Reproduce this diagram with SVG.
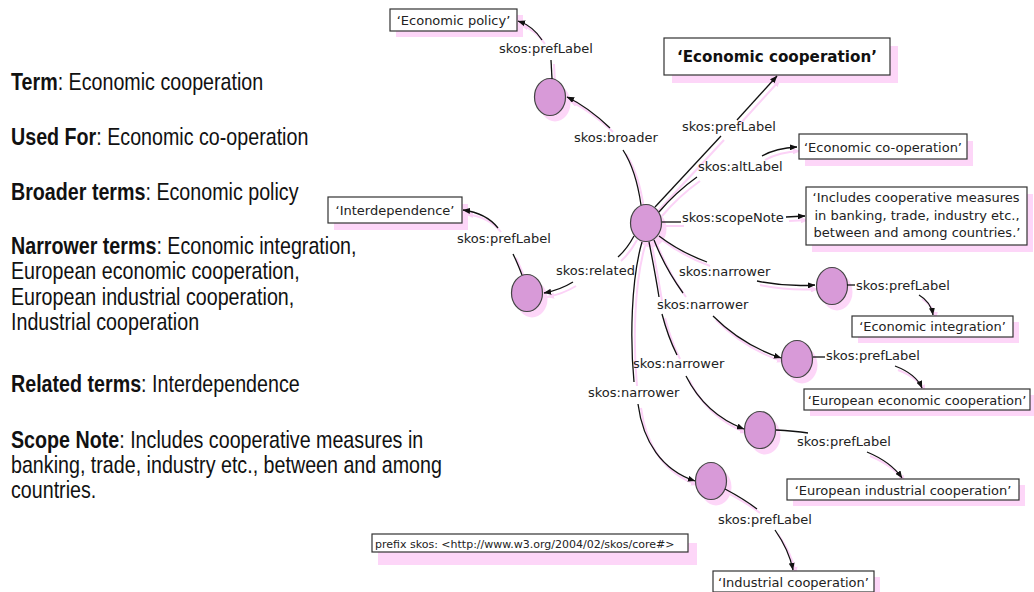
<svg xmlns="http://www.w3.org/2000/svg" width="1034" height="592" viewBox="0 0 1034 592">
<style>
.lt{font-family:"Liberation Sans",Arial,sans-serif;font-size:24px;fill:#111}
.b{font-weight:bold}
.t{font-family:"DejaVu Sans",Verdana,sans-serif;font-size:13px;fill:#222}
.c{text-anchor:middle}
.box{fill:#fff;stroke:#333;stroke-width:1.2}
.sh{fill:#fdd6f8}
.nd{fill:#d89ad8;stroke:#444;stroke-width:1.2}
</style>
<defs>
<marker id="ah" viewBox="0 0 10 8" refX="9.5" refY="4" markerWidth="7.5" markerHeight="6" markerUnits="userSpaceOnUse" orient="auto"><path d="M0,0 L10,4 L0,8 z" fill="#111"/></marker>
<marker id="ahp" viewBox="0 0 10 8" refX="9.5" refY="4" markerWidth="7.5" markerHeight="6" markerUnits="userSpaceOnUse" orient="auto"><path d="M0,0 L10,4 L0,8 z" fill="#fcd2f7"/></marker>
</defs>
<rect width="1034" height="592" fill="#fff"/>

<!-- left description text -->
<g id="description" class="lt" transform="scale(0.82,1)">
<text x="13.4" y="90"><tspan class="b">Term</tspan>: Economic cooperation</text>
<text x="13.4" y="145"><tspan class="b">Used For</tspan>: Economic co-operation</text>
<text x="13.4" y="200"><tspan class="b">Broader terms</tspan>: Economic policy</text>
<text x="13.4" y="254"><tspan class="b">Narrower terms</tspan>: Economic integration,</text>
<text x="13.4" y="279.5">European economic cooperation,</text>
<text x="13.4" y="305">European industrial cooperation,</text>
<text x="13.4" y="330.5">Industrial cooperation</text>
<text x="13.4" y="392"><tspan class="b">Related terms</tspan>: Interdependence</text>
<text x="13.4" y="448"><tspan class="b">Scope Note</tspan>: Includes cooperative measures in</text>
<text x="13.4" y="473">banking, trade, industry etc., between and among</text>
<text x="13.4" y="498">countries.</text>
</g>

<!-- pink edge shadows -->
<g id="edge-shadows" fill="none" stroke="#fcd2f7" stroke-width="2" transform="translate(3,4)">
<path d="M641,205 Q636,170 623,150"/>
<path d="M610,128 Q588,107 567,97" marker-end="url(#ahp)"/>
<path d="M552,79 L551,60"/>
<path d="M542,40 Q533,26 518,21" marker-end="url(#ahp)"/>
<path d="M655,207 L721,136"/>
<path d="M737,120 L777,76" marker-end="url(#ahp)"/>
<path d="M659,212 Q676,192 697,177"/>
<path d="M762,156 Q776,148 797,147" marker-end="url(#ahp)"/>
<path d="M662,222 L681,222"/>
<path d="M786,217 L805,216" marker-end="url(#ahp)"/>
<path d="M634,236 Q627,249 618,257"/>
<path d="M573,282 Q560,290 544,293" marker-end="url(#ahp)"/>
<path d="M522,275 Q517,262 513,254"/>
<path d="M498,228 Q486,213 463,210" marker-end="url(#ahp)"/>
<path d="M659,236 Q680,252 707,262"/>
<path d="M757,281 Q786,287 815,285" marker-end="url(#ahp)"/>
<path d="M654,240 Q665,268 683,293"/>
<path d="M713,316 Q742,345 781,358" marker-end="url(#ahp)"/>
<path d="M649,242 Q655,272 659,297"/>
<path d="M662,314 Q668,337 677,355"/>
<path d="M686,376 Q705,414 744,429" marker-end="url(#ahp)"/>
<path d="M642,242 C631,280 630,340 634,382"/>
<path d="M638,404 C643,442 662,470 695,481" marker-end="url(#ahp)"/>
<path d="M919,295 Q931,302 933,315" marker-end="url(#ahp)"/>
<path d="M895,366 Q916,374 922,388" marker-end="url(#ahp)"/>
<path d="M867,452 Q891,462 902,478" marker-end="url(#ahp)"/>
<path d="M725,489 Q744,499 757,509"/>
<path d="M775,530 Q789,550 793,570" marker-end="url(#ahp)"/>
</g>

<!-- concept nodes -->
<g id="node-center"><ellipse class="sh" cx="651" cy="229" rx="15.5" ry="18.5"/><ellipse class="nd" cx="646" cy="223" rx="15.5" ry="18.5"/></g>
<g id="node-broader"><ellipse class="sh" cx="555" cy="103" rx="15.5" ry="18.5"/><ellipse class="nd" cx="550" cy="97" rx="15.5" ry="18.5"/></g>
<g id="node-related"><ellipse class="sh" cx="532" cy="299" rx="15.5" ry="18.5"/><ellipse class="nd" cx="527" cy="293" rx="15.5" ry="18.5"/></g>
<g id="node-narrower-1"><ellipse class="sh" cx="837" cy="292" rx="15.5" ry="18.5"/><ellipse class="nd" cx="832" cy="286" rx="15.5" ry="18.5"/></g>
<g id="node-narrower-2"><ellipse class="sh" cx="802" cy="365" rx="15.5" ry="18.5"/><ellipse class="nd" cx="797" cy="359" rx="15.5" ry="18.5"/></g>
<g id="node-narrower-3"><ellipse class="sh" cx="765" cy="436" rx="15.5" ry="18.5"/><ellipse class="nd" cx="760" cy="430" rx="15.5" ry="18.5"/></g>
<g id="node-narrower-4"><ellipse class="sh" cx="716" cy="487" rx="15.5" ry="18.5"/><ellipse class="nd" cx="711" cy="481" rx="15.5" ry="18.5"/></g>

<!-- literal nodes -->
<g id="lit-economic-policy"><rect class="sh" x="396" y="15" width="127" height="22"/><rect class="box" x="390" y="9" width="127" height="22"/><text class="t c" x="453.5" y="25">‘Economic policy’</text></g>
<g id="lit-economic-cooperation"><rect class="sh" x="672" y="46" width="226" height="37"/><rect class="box" x="664" y="38" width="226" height="37"/><text x="777" y="62" text-anchor="middle" font-family="DejaVu Sans, Verdana, sans-serif" font-weight="bold" font-size="16" fill="#111" textLength="200" lengthAdjust="spacingAndGlyphs">‘Economic cooperation’</text></g>
<g id="lit-economic-co-operation"><rect class="sh" x="805" y="141" width="168" height="25"/><rect class="box" x="799" y="134" width="168" height="25"/><text class="t c" x="883" y="152">‘Economic co-operation’</text></g>
<g id="lit-scope-note"><rect class="sh" x="812" y="194" width="221" height="58"/><rect class="box" x="806" y="187" width="221" height="58"/><text class="t c" x="916" y="202">‘Includes cooperative measures</text><text class="t c" x="917" y="219.5">in banking, trade, industry etc.,</text><text class="t c" x="917" y="237">between and among countries.’</text></g>
<g id="lit-interdependence"><rect class="sh" x="334" y="204" width="134" height="26"/><rect class="box" x="328" y="197" width="134" height="26"/><text class="t c" x="395" y="215">‘Interdependence’</text></g>
<g id="lit-economic-integration"><rect class="sh" x="858" y="322" width="161" height="21"/><rect class="box" x="852" y="316" width="161" height="21"/><text class="t c" x="932.5" y="331">‘Economic integration’</text></g>
<g id="lit-european-economic"><rect class="sh" x="810" y="395" width="226" height="21"/><rect class="box" x="804" y="389" width="226" height="21"/><text class="t c" x="917" y="405">‘European economic cooperation’</text></g>
<g id="lit-european-industrial"><rect class="sh" x="793" y="485" width="232" height="21"/><rect class="box" x="787" y="479" width="232" height="21"/><text class="t c" x="903" y="494.5">‘European industrial cooperation’</text></g>
<g id="lit-industrial"><rect class="sh" x="719" y="577" width="161" height="21"/><rect class="box" x="713" y="571" width="161" height="21"/><text class="t c" x="793.5" y="587">‘Industrial cooperation’</text></g>
<g id="prefix-note"><rect class="sh" x="378" y="543" width="319" height="22"/><rect class="box" x="372" y="534" width="316" height="18"/><text x="375" y="548" font-family="DejaVu Sans, Verdana, sans-serif" font-size="11" fill="#222">prefix skos: &lt;http://www.w3.org/2004/02/skos/core#&gt;</text></g>

<!-- connectors -->
<g id="connectors">
<g fill="none" stroke="#111" stroke-width="1.3">
<path d="M641,205 Q636,170 623,150"/>
<path d="M610,128 Q588,107 567,97" marker-end="url(#ah)"/>
<path d="M552,79 L551,60"/>
<path d="M542,40 Q533,26 518,21" marker-end="url(#ah)"/>
<path d="M655,207 L721,136"/>
<path d="M737,120 L777,76" marker-end="url(#ah)"/>
<path d="M659,212 Q676,192 697,177"/>
<path d="M762,156 Q776,148 797,147" marker-end="url(#ah)"/>
<path d="M662,222 L681,222"/>
<path d="M786,217 L805,216" marker-end="url(#ah)"/>
<path d="M634,236 Q627,249 618,257"/>
<path d="M573,282 Q560,290 544,293" marker-end="url(#ah)"/>
<path d="M522,275 Q517,262 513,254"/>
<path d="M498,228 Q486,213 463,210" marker-end="url(#ah)"/>
<path d="M659,236 Q680,252 707,262"/>
<path d="M757,281 Q786,287 815,285" marker-end="url(#ah)"/>
<path d="M654,240 Q665,268 683,293"/>
<path d="M713,316 Q742,345 781,358" marker-end="url(#ah)"/>
<path d="M649,242 Q655,272 659,297"/>
<path d="M662,314 Q668,337 677,355"/>
<path d="M686,376 Q705,414 744,429" marker-end="url(#ah)"/>
<path d="M642,242 C631,280 630,340 634,382"/>
<path d="M638,404 C643,442 662,470 695,481" marker-end="url(#ah)"/>
<path d="M847,285 L855,285"/>
<path d="M919,295 Q931,302 933,315" marker-end="url(#ah)"/>
<path d="M813,357 L825,357"/>
<path d="M895,366 Q916,374 922,388" marker-end="url(#ah)"/>
<path d="M776,430 Q794,431 808,433"/>
<path d="M867,452 Q891,462 902,478" marker-end="url(#ah)"/>
<path d="M725,489 Q744,499 757,509"/>
<path d="M775,530 Q789,550 793,570" marker-end="url(#ah)"/>
</g>
<g class="t">
<text x="499" y="53">skos:prefLabel</text>
<text x="574" y="142">skos:broader</text>
<text x="682" y="131">skos:prefLabel</text>
<text x="698" y="171">skos:altLabel</text>
<text x="682" y="222">skos:scopeNote</text>
<text x="457" y="243">skos:prefLabel</text>
<text x="556" y="275">skos:related</text>
<text x="679" y="276">skos:narrower</text>
<text x="657" y="309">skos:narrower</text>
<text x="633" y="368">skos:narrower</text>
<text x="588" y="397">skos:narrower</text>
<text x="856" y="290">skos:prefLabel</text>
<text x="826" y="360">skos:prefLabel</text>
<text x="797" y="446">skos:prefLabel</text>
<text x="718" y="524">skos:prefLabel</text>
</g>
</g>
</svg>
